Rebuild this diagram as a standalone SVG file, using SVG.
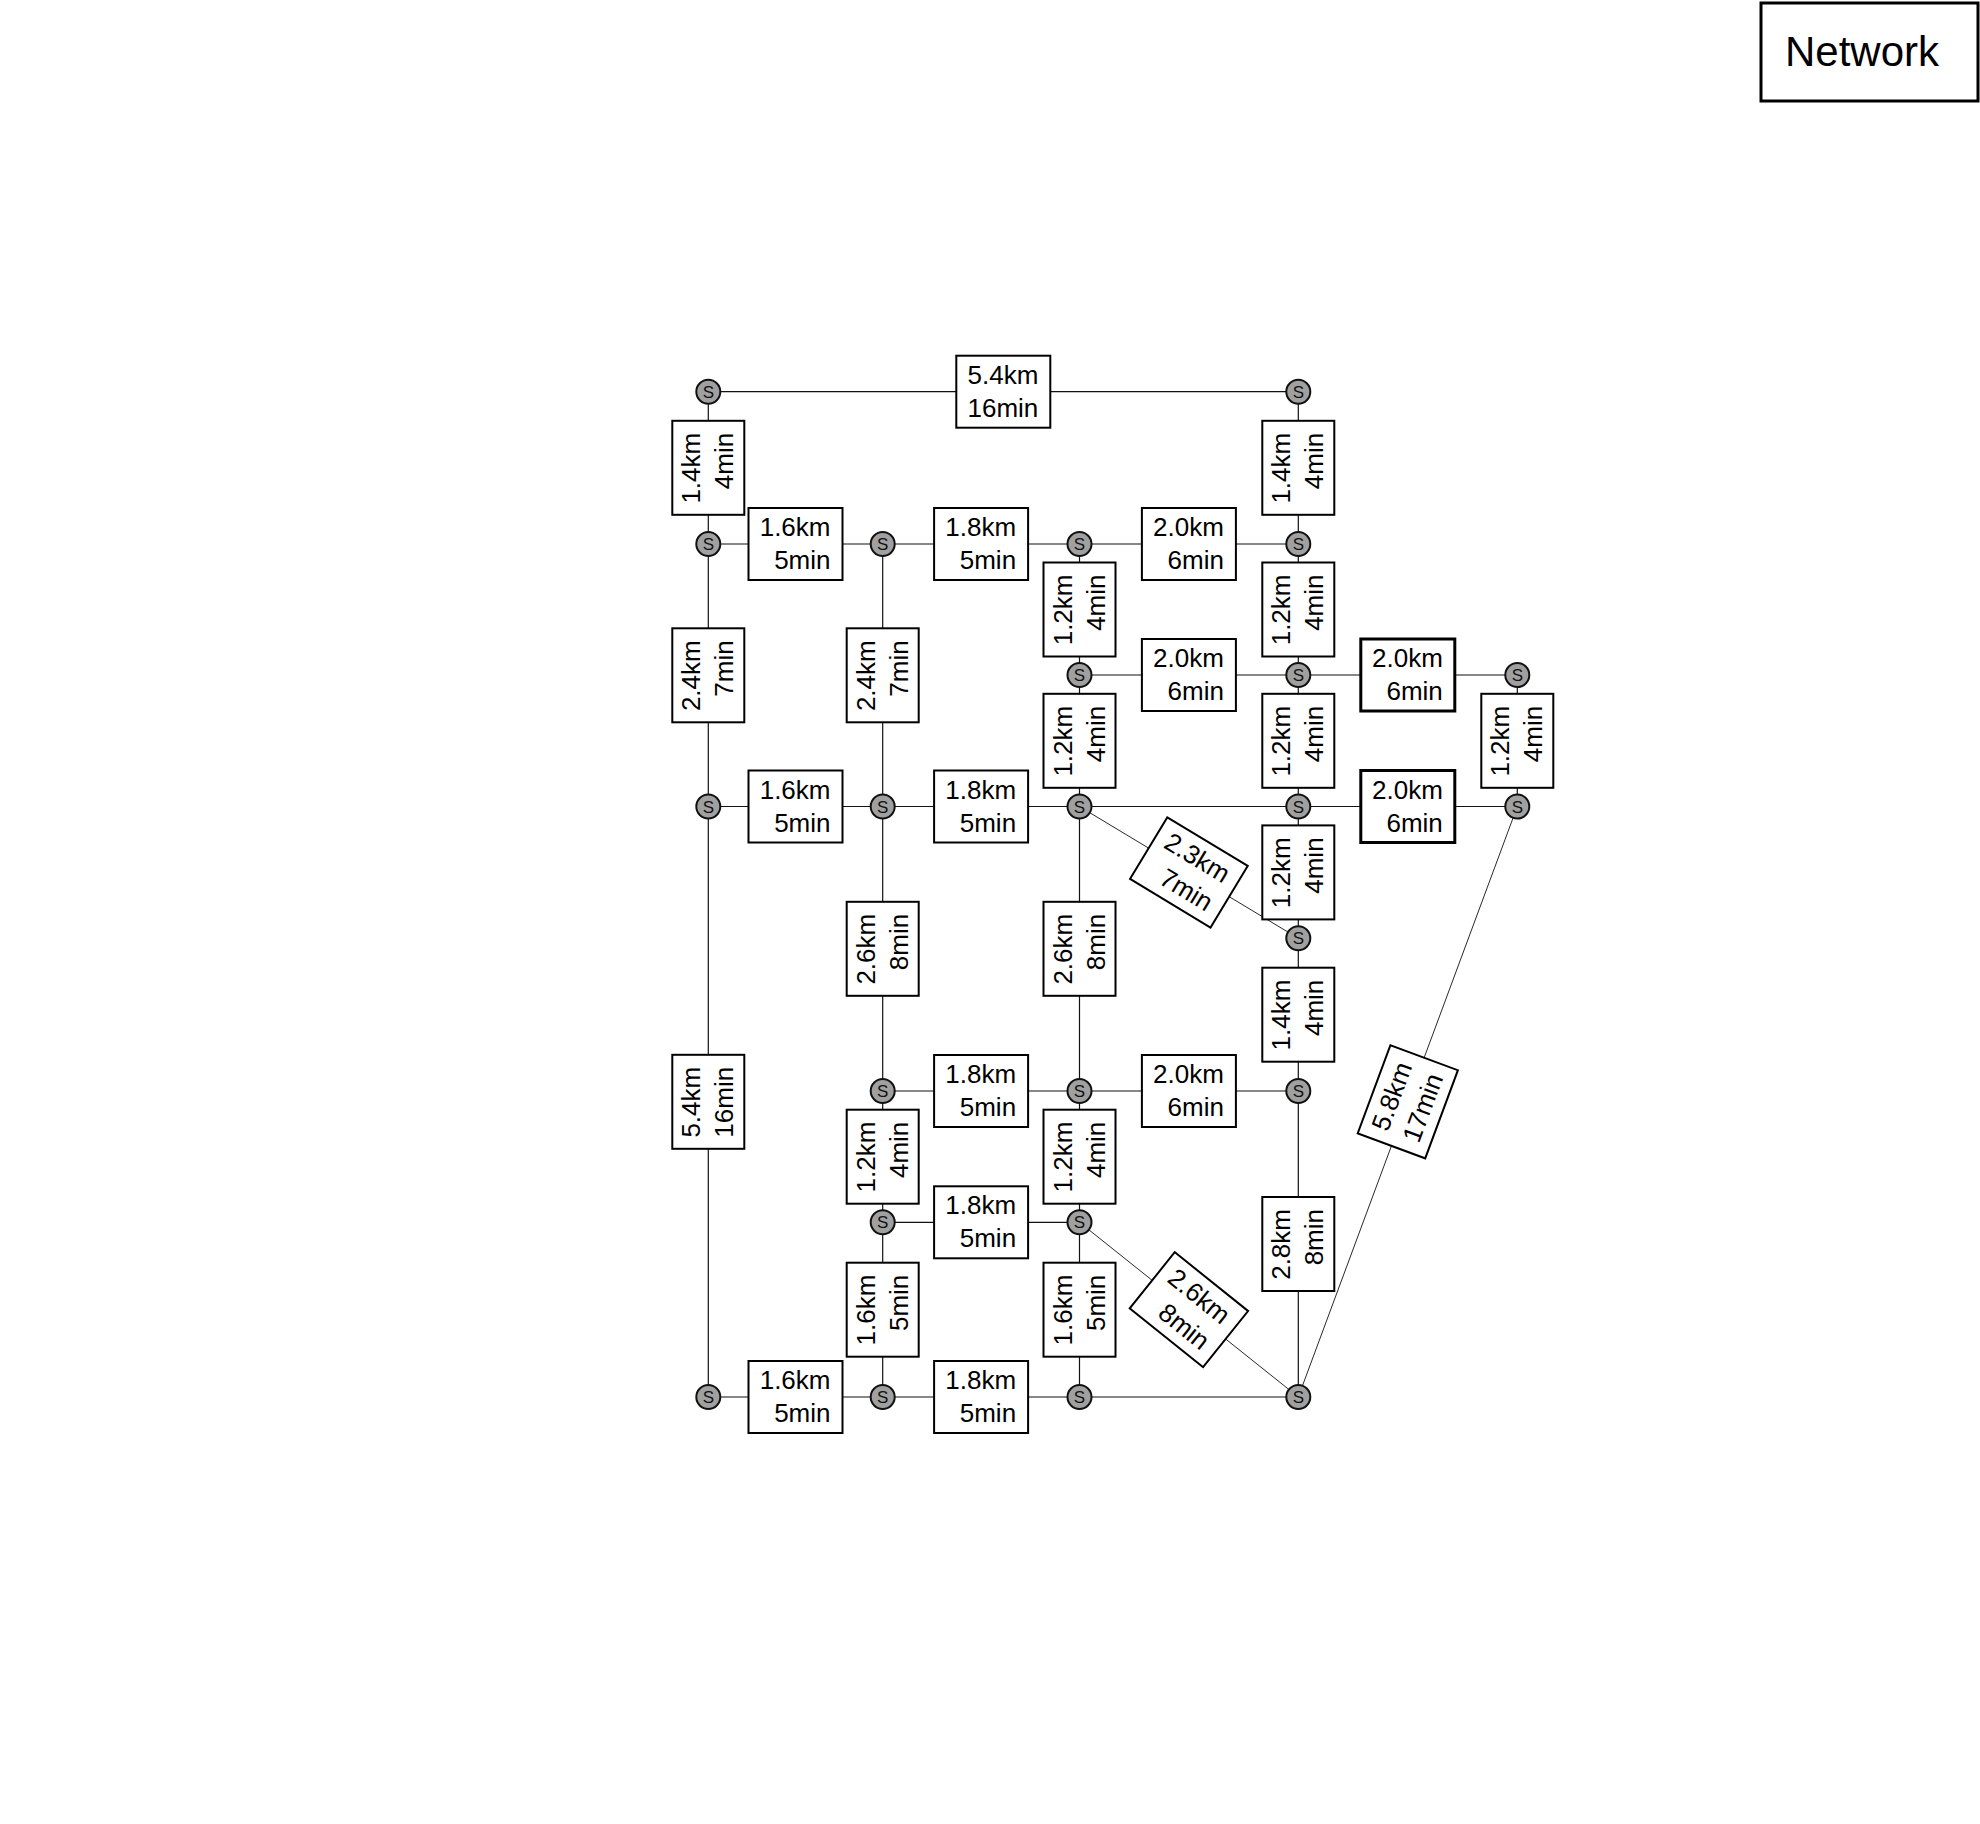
<svg xmlns="http://www.w3.org/2000/svg" width="1980" height="1824" viewBox="0 0 1980 1824">
<style>
.e{stroke:#111;stroke-width:1.2;fill:none}
.d{stroke:#111;stroke-width:0.9;fill:none}
.n circle{fill:#a0a0a0;stroke:#111;stroke-width:2}
.n text{font-family:"Liberation Sans",Arial,sans-serif;font-size:17px;text-anchor:middle;fill:#111}
.l rect{fill:#fff;stroke:#000;stroke-width:2}
.l.t rect{stroke-width:3}
.l text{font-family:"Liberation Sans",Arial,sans-serif;font-size:26px;text-anchor:end;fill:#000}
</style>
<rect width="1980" height="1824" fill="#fff"/>
<g id="legend">
<rect x="1761" y="3" width="217" height="98" fill="#fff" stroke="#000" stroke-width="3"/>
<text x="1785" y="66" font-family="'Liberation Sans',Arial,sans-serif" font-size="42">Network</text>
</g>
<g id="connectors">
<line class="e" x1="708.3" y1="391.7" x2="1298.3" y2="391.7"/>
<line class="e" x1="708.3" y1="391.7" x2="708.3" y2="544"/>
<line class="e" x1="1298.3" y1="391.7" x2="1298.3" y2="544"/>
<line class="e" x1="708.3" y1="544" x2="1298.3" y2="544"/>
<line class="e" x1="1079.5" y1="544" x2="1079.5" y2="675"/>
<line class="e" x1="1298.3" y1="544" x2="1298.3" y2="1397"/>
<line class="e" x1="708.3" y1="544" x2="708.3" y2="1397"/>
<line class="e" x1="882.7" y1="544" x2="882.7" y2="1397"/>
<line class="e" x1="1079.5" y1="675" x2="1517.3" y2="675"/>
<line class="e" x1="1079.5" y1="675" x2="1079.5" y2="1397"/>
<line class="e" x1="1517.3" y1="675" x2="1517.3" y2="806.5"/>
<line class="e" x1="708.3" y1="806.5" x2="1517.3" y2="806.5"/>
<line class="d" x1="1079.5" y1="806.5" x2="1298.3" y2="938.3"/>
<line class="d" x1="1517.3" y1="806.5" x2="1298.3" y2="1397"/>
<line class="e" x1="882.7" y1="1091" x2="1298.3" y2="1091"/>
<line class="e" x1="882.7" y1="1222.3" x2="1079.5" y2="1222.3"/>
<line class="d" x1="1079.5" y1="1222.3" x2="1298.3" y2="1397"/>
<line class="e" x1="708.3" y1="1397" x2="1298.3" y2="1397"/>
</g>
<g id="labels">
<g class="l" transform="translate(1003.3,391.7)"><rect x="-47" y="-36" width="94" height="72"/><text x="35" y="-8">5.4km</text><text x="35" y="25">16min</text></g>
<g class="l" transform="translate(708.3,467.8) rotate(-90)"><rect x="-47" y="-36" width="94" height="72"/><text x="35" y="-8">1.4km</text><text x="35" y="25">4min</text></g>
<g class="l" transform="translate(1298.3,467.8) rotate(-90)"><rect x="-47" y="-36" width="94" height="72"/><text x="35" y="-8">1.4km</text><text x="35" y="25">4min</text></g>
<g class="l" transform="translate(795.5,544)"><rect x="-47" y="-36" width="94" height="72"/><text x="35" y="-8">1.6km</text><text x="35" y="25">5min</text></g>
<g class="l" transform="translate(981.1,544)"><rect x="-47" y="-36" width="94" height="72"/><text x="35" y="-8">1.8km</text><text x="35" y="25">5min</text></g>
<g class="l" transform="translate(1188.9,544)"><rect x="-47" y="-36" width="94" height="72"/><text x="35" y="-8">2.0km</text><text x="35" y="25">6min</text></g>
<g class="l" transform="translate(1079.5,609.5) rotate(-90)"><rect x="-47" y="-36" width="94" height="72"/><text x="35" y="-8">1.2km</text><text x="35" y="25">4min</text></g>
<g class="l" transform="translate(1298.3,609.5) rotate(-90)"><rect x="-47" y="-36" width="94" height="72"/><text x="35" y="-8">1.2km</text><text x="35" y="25">4min</text></g>
<g class="l" transform="translate(708.3,675.3) rotate(-90)"><rect x="-47" y="-36" width="94" height="72"/><text x="35" y="-8">2.4km</text><text x="35" y="25">7min</text></g>
<g class="l" transform="translate(882.7,675.3) rotate(-90)"><rect x="-47" y="-36" width="94" height="72"/><text x="35" y="-8">2.4km</text><text x="35" y="25">7min</text></g>
<g class="l" transform="translate(1188.9,675)"><rect x="-47" y="-36" width="94" height="72"/><text x="35" y="-8">2.0km</text><text x="35" y="25">6min</text></g>
<g class="l t" transform="translate(1407.8,675)"><rect x="-47" y="-36" width="94" height="72"/><text x="35" y="-8">2.0km</text><text x="35" y="25">6min</text></g>
<g class="l" transform="translate(1079.5,740.8) rotate(-90)"><rect x="-47" y="-36" width="94" height="72"/><text x="35" y="-8">1.2km</text><text x="35" y="25">4min</text></g>
<g class="l" transform="translate(1298.3,740.8) rotate(-90)"><rect x="-47" y="-36" width="94" height="72"/><text x="35" y="-8">1.2km</text><text x="35" y="25">4min</text></g>
<g class="l" transform="translate(1517.3,740.8) rotate(-90)"><rect x="-47" y="-36" width="94" height="72"/><text x="35" y="-8">1.2km</text><text x="35" y="25">4min</text></g>
<g class="l" transform="translate(795.5,806.5)"><rect x="-47" y="-36" width="94" height="72"/><text x="35" y="-8">1.6km</text><text x="35" y="25">5min</text></g>
<g class="l" transform="translate(981.1,806.5)"><rect x="-47" y="-36" width="94" height="72"/><text x="35" y="-8">1.8km</text><text x="35" y="25">5min</text></g>
<g class="l t" transform="translate(1407.8,806.5)"><rect x="-47" y="-36" width="94" height="72"/><text x="35" y="-8">2.0km</text><text x="35" y="25">6min</text></g>
<g class="l" transform="translate(1188.9,872.4) rotate(31.15)"><rect x="-47" y="-36" width="94" height="72"/><text x="35" y="-8">2.3km</text><text x="35" y="25">7min</text></g>
<g class="l" transform="translate(1298.3,872.4) rotate(-90)"><rect x="-47" y="-36" width="94" height="72"/><text x="35" y="-8">1.2km</text><text x="35" y="25">4min</text></g>
<g class="l" transform="translate(882.7,948.8) rotate(-90)"><rect x="-47" y="-36" width="94" height="72"/><text x="35" y="-8">2.6km</text><text x="35" y="25">8min</text></g>
<g class="l" transform="translate(1079.5,948.8) rotate(-90)"><rect x="-47" y="-36" width="94" height="72"/><text x="35" y="-8">2.6km</text><text x="35" y="25">8min</text></g>
<g class="l" transform="translate(1298.3,1014.7) rotate(-90)"><rect x="-47" y="-36" width="94" height="72"/><text x="35" y="-8">1.4km</text><text x="35" y="25">4min</text></g>
<g class="l" transform="translate(708.3,1101.8) rotate(-90)"><rect x="-47" y="-36" width="94" height="72"/><text x="35" y="-8">5.4km</text><text x="35" y="25">16min</text></g>
<g class="l" transform="translate(1407.8,1101.8) rotate(-69.65)"><rect x="-47" y="-36" width="94" height="72"/><text x="35" y="-8">5.8km</text><text x="35" y="25">17min</text></g>
<g class="l" transform="translate(981.1,1091)"><rect x="-47" y="-36" width="94" height="72"/><text x="35" y="-8">1.8km</text><text x="35" y="25">5min</text></g>
<g class="l" transform="translate(1188.9,1091)"><rect x="-47" y="-36" width="94" height="72"/><text x="35" y="-8">2.0km</text><text x="35" y="25">6min</text></g>
<g class="l" transform="translate(882.7,1156.7) rotate(-90)"><rect x="-47" y="-36" width="94" height="72"/><text x="35" y="-8">1.2km</text><text x="35" y="25">4min</text></g>
<g class="l" transform="translate(1079.5,1156.7) rotate(-90)"><rect x="-47" y="-36" width="94" height="72"/><text x="35" y="-8">1.2km</text><text x="35" y="25">4min</text></g>
<g class="l" transform="translate(981.1,1222.3)"><rect x="-47" y="-36" width="94" height="72"/><text x="35" y="-8">1.8km</text><text x="35" y="25">5min</text></g>
<g class="l" transform="translate(1298.3,1244) rotate(-90)"><rect x="-47" y="-36" width="94" height="72"/><text x="35" y="-8">2.8km</text><text x="35" y="25">8min</text></g>
<g class="l" transform="translate(1188.9,1309.7) rotate(38.71)"><rect x="-47" y="-36" width="94" height="72"/><text x="35" y="-8">2.6km</text><text x="35" y="25">8min</text></g>
<g class="l" transform="translate(882.7,1309.7) rotate(-90)"><rect x="-47" y="-36" width="94" height="72"/><text x="35" y="-8">1.6km</text><text x="35" y="25">5min</text></g>
<g class="l" transform="translate(1079.5,1309.7) rotate(-90)"><rect x="-47" y="-36" width="94" height="72"/><text x="35" y="-8">1.6km</text><text x="35" y="25">5min</text></g>
<g class="l" transform="translate(795.5,1397)"><rect x="-47" y="-36" width="94" height="72"/><text x="35" y="-8">1.6km</text><text x="35" y="25">5min</text></g>
<g class="l" transform="translate(981.1,1397)"><rect x="-47" y="-36" width="94" height="72"/><text x="35" y="-8">1.8km</text><text x="35" y="25">5min</text></g>
</g>
<g id="nodes">
<g id="n1" class="n"><circle cx="708.3" cy="391.7" r="12"/><text x="708.3" y="397.8">S</text></g>
<g id="n2" class="n"><circle cx="1298.3" cy="391.7" r="12"/><text x="1298.3" y="397.8">S</text></g>
<g id="n3" class="n"><circle cx="708.3" cy="544" r="12"/><text x="708.3" y="550.1">S</text></g>
<g id="n4" class="n"><circle cx="882.7" cy="544" r="12"/><text x="882.7" y="550.1">S</text></g>
<g id="n5" class="n"><circle cx="1079.5" cy="544" r="12"/><text x="1079.5" y="550.1">S</text></g>
<g id="n6" class="n"><circle cx="1298.3" cy="544" r="12"/><text x="1298.3" y="550.1">S</text></g>
<g id="n7" class="n"><circle cx="1079.5" cy="675" r="12"/><text x="1079.5" y="681.1">S</text></g>
<g id="n8" class="n"><circle cx="1298.3" cy="675" r="12"/><text x="1298.3" y="681.1">S</text></g>
<g id="n9" class="n"><circle cx="1517.3" cy="675" r="12"/><text x="1517.3" y="681.1">S</text></g>
<g id="n10" class="n"><circle cx="708.3" cy="806.5" r="12"/><text x="708.3" y="812.6">S</text></g>
<g id="n11" class="n"><circle cx="882.7" cy="806.5" r="12"/><text x="882.7" y="812.6">S</text></g>
<g id="n12" class="n"><circle cx="1079.5" cy="806.5" r="12"/><text x="1079.5" y="812.6">S</text></g>
<g id="n13" class="n"><circle cx="1298.3" cy="806.5" r="12"/><text x="1298.3" y="812.6">S</text></g>
<g id="n14" class="n"><circle cx="1517.3" cy="806.5" r="12"/><text x="1517.3" y="812.6">S</text></g>
<g id="n15" class="n"><circle cx="1298.3" cy="938.3" r="12"/><text x="1298.3" y="944.4">S</text></g>
<g id="n16" class="n"><circle cx="882.7" cy="1091" r="12"/><text x="882.7" y="1097.1">S</text></g>
<g id="n17" class="n"><circle cx="1079.5" cy="1091" r="12"/><text x="1079.5" y="1097.1">S</text></g>
<g id="n18" class="n"><circle cx="1298.3" cy="1091" r="12"/><text x="1298.3" y="1097.1">S</text></g>
<g id="n19" class="n"><circle cx="882.7" cy="1222.3" r="12"/><text x="882.7" y="1228.4">S</text></g>
<g id="n20" class="n"><circle cx="1079.5" cy="1222.3" r="12"/><text x="1079.5" y="1228.4">S</text></g>
<g id="n21" class="n"><circle cx="708.3" cy="1397" r="12"/><text x="708.3" y="1403.1">S</text></g>
<g id="n22" class="n"><circle cx="882.7" cy="1397" r="12"/><text x="882.7" y="1403.1">S</text></g>
<g id="n23" class="n"><circle cx="1079.5" cy="1397" r="12"/><text x="1079.5" y="1403.1">S</text></g>
<g id="n24" class="n"><circle cx="1298.3" cy="1397" r="12"/><text x="1298.3" y="1403.1">S</text></g>
</g>
</svg>
